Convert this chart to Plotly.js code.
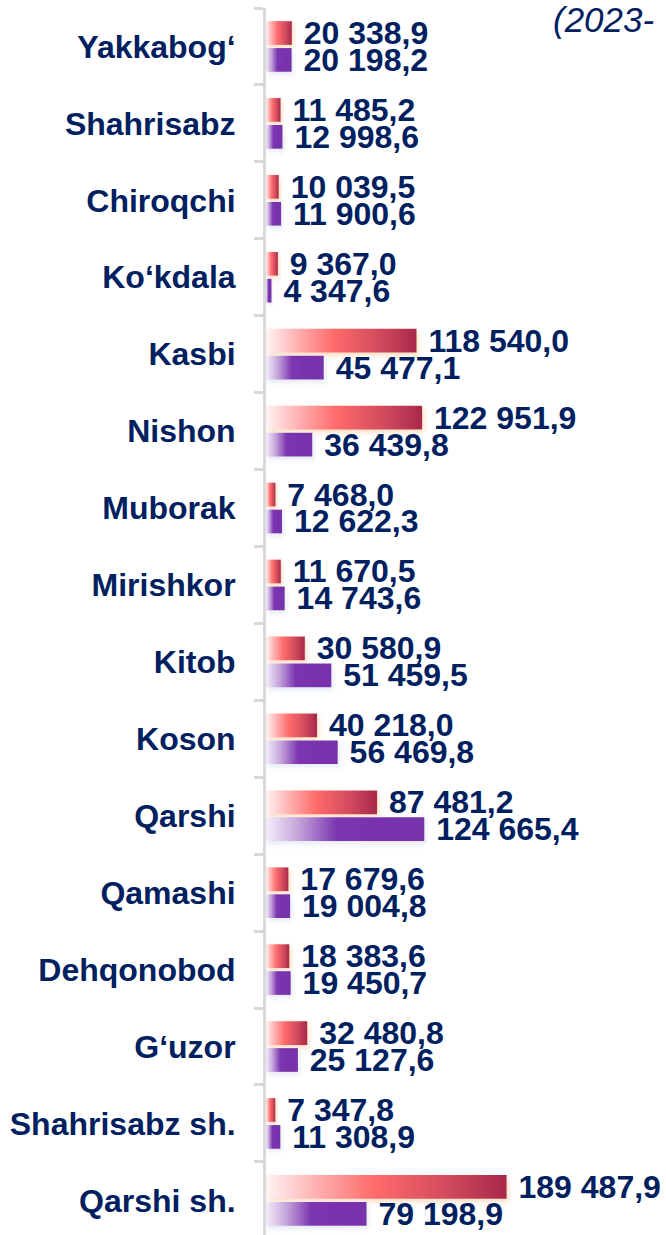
<!DOCTYPE html>
<html>
<head>
<meta charset="utf-8">
<script src="https://cdn.plot.ly/plotly-3.0.1.min.js"></script>
<style>html,body{margin:0;padding:0;background:#fff;}#chart{width:666px;height:1235px;}</style>
</head>
<body>
<div id="chart"></div>
<script>
const categories = ["Yakkabog‘","Shahrisabz","Chiroqchi","Ko‘kdala","Kasbi","Nishon","Muborak","Mirishkor","Kitob","Koson","Qarshi","Qamashi","Dehqonobod","G‘uzor","Shahrisabz sh.","Qarshi sh."];
const seriesA = [20338.9,11485.2,10039.5,9367.0,118540.0,122951.9,7468.0,11670.5,30580.9,40218.0,87481.2,17679.6,18383.6,32480.8,7347.8,189487.9];
const seriesB = [20198.2,12998.6,11900.6,4347.6,45477.1,36439.8,12622.3,14743.6,51459.5,56469.8,124665.4,19004.8,19450.7,25127.6,11308.9,79198.9];
const headerText = "(2023-";

const NAVY = "#002060";
const FONT = "Liberation Sans, Arial, sans-serif";

function fmt(v){
  const parts = v.toFixed(1).split(".");
  const intp = parts[0].replace(/\B(?=(\d{3})+(?!\d))/g, " ");
  return intp + "," + parts[1];
}

const common = {
  type: "bar", orientation: "h", y: categories,
  textposition: "outside", constraintext: "none", cliponaxis: false,
  texttemplate: "\u00A0%{text}",
  textfont: {family: FONT, size: 32, color: NAVY, weight: "bold"},
  hoverinfo: "none", showlegend: false
};

const traces = [
  Object.assign({}, common, {x: seriesA, text: seriesA.map(fmt), marker: {color: "#e05060"}}),
  Object.assign({}, common, {x: seriesB, text: seriesB.map(fmt), marker: {color: "#7a33ad"}})
];

const layout = {
  width: 666, height: 1235,
  margin: {l: 266, r: 0, t: 8, b: 0},
  paper_bgcolor: "#fff", plot_bgcolor: "#fff",
  barmode: "group", bargap: 0.3, bargroupgap: 0.12,
  xaxis: {range: [0, 315000], visible: false, showgrid: false, zeroline: false},
  yaxis: {
    type: "category", range: [15.45, -0.5],
    showline: true, linecolor: "#d9d9d9", linewidth: 3,
    ticks: "outside", tickson: "boundaries", ticklen: 9, tickwidth: 3, tickcolor: "#d9d9d9",
    ticklabelstandoff: 21,
    tickfont: {family: FONT, size: 32, color: NAVY, weight: "bold"},
    showgrid: false, zeroline: false
  },
  annotations: [{
    text: headerText, xref: "paper", yref: "paper",
    x: (551 - 266) / 400, xanchor: "left", y: 1 + 8 / 1227 + 0.002, yanchor: "top",
    showarrow: false, font: {family: FONT, size: 35, color: NAVY, style: "italic"}
  }]
};

const gd = document.getElementById("chart");
Plotly.newPlot(gd, traces, layout, {staticPlot: true}).then(function(){
  const NS = "http://www.w3.org/2000/svg";
  const svg = gd.querySelector("svg.main-svg");
  let defs = svg.querySelector("defs");
  if (!defs) { defs = document.createElementNS(NS, "defs"); svg.insertBefore(defs, svg.firstChild); }
  function grad(id, stops){
    const g = document.createElementNS(NS, "linearGradient");
    g.setAttribute("id", id); g.setAttribute("x1","0"); g.setAttribute("y1","0"); g.setAttribute("x2","1"); g.setAttribute("y2","0");
    stops.forEach(function(s){
      const st = document.createElementNS(NS, "stop");
      st.setAttribute("offset", s[0]); st.setAttribute("stop-color", s[1]);
      g.appendChild(st);
    });
    defs.appendChild(g);
  }
  function shadow(id, color, op){
    const f = document.createElementNS(NS, "filter");
    f.setAttribute("id", id); f.setAttribute("x","-10%"); f.setAttribute("y","-40%"); f.setAttribute("width","130%"); f.setAttribute("height","190%");
    const d = document.createElementNS(NS, "feDropShadow");
    d.setAttribute("dx","2"); d.setAttribute("dy","3"); d.setAttribute("stdDeviation","2.5");
    d.setAttribute("flood-color", color); d.setAttribute("flood-opacity", op);
    f.appendChild(d); defs.appendChild(f);
  }
  grad("gRed", [["0%","#fff4f4"],["20%","#ffb3b3"],["45%","#ff6b6b"],["75%","#d24b5e"],["100%","#a8284a"]]);
  grad("gPur", [["0%","#f4eefa"],["20%","#c6a6dc"],["45%","#7b35b0"],["100%","#7730aa"]]);
  shadow("sRed", "#f5a050", 0.35);
  shadow("sPur", "#aab8d8", 0.3);
  const tr = gd.querySelectorAll(".barlayer .trace");
  [["gRed","sRed"],["gPur","sPur"]].forEach(function(p, i){
    if (!tr[i]) return;
    tr[i].querySelectorAll(".point path").forEach(function(path){
      path.style.fill = "url(#" + p[0] + ")";
      path.style.filter = "url(#" + p[1] + ")";
    });
  });
});
</script>
</body>
</html>
